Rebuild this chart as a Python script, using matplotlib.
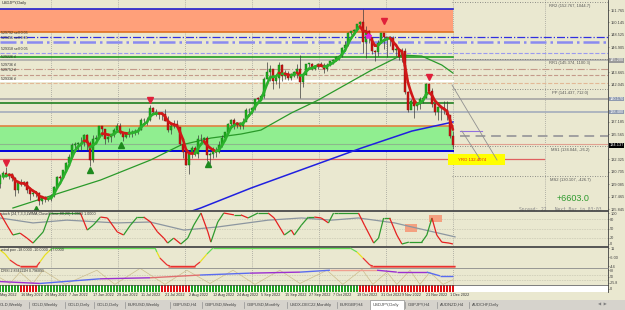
import numpy as np
import pandas as pd
import matplotlib
matplotlib.use("Agg")
import matplotlib.pyplot as plt
from matplotlib.collections import LineCollection
from matplotlib.patches import Rectangle
from matplotlib.transforms import blended_transform_factory

BG = "#EAE8D0"
plt.rcParams["font.family"] = ["Liberation Sans", "DejaVu Sans"]

# ---------------- data (USDJPY daily) ----------------
days = pd.bdate_range("2022-05-02", "2022-12-02")

high = [130.38, 130.40, 130.39, 130.45, 130.80,
        131.35, 130.50, 130.48, 130.04, 129.39,
        129.76, 129.47, 129.49, 128.48, 128.16,
        128.19, 128.10, 127.53, 127.53, 127.32,
        127.82, 128.89, 130.19, 130.23, 130.97,
        131.95, 133.00, 134.47, 134.56, 134.55,
        135.22, 135.58, 135.59, 134.68, 135.44,
        135.43, 136.71, 136.71, 136.26, 135.38,
        135.58, 136.38, 137.00, 136.99, 135.88,
        135.89, 136.36, 136.18, 136.22, 136.58,
        137.75, 137.69, 137.87, 139.39, 139.07,
        138.89, 138.39, 138.40, 138.88, 137.92,
        136.92, 137.48, 137.45, 136.56, 134.54,
        133.40, 133.35, 134.09, 134.09, 135.50,
        135.58, 135.25, 135.30, 133.31, 133.88,
        133.90, 134.67, 135.47, 135.90, 137.00,
        137.61, 137.65, 137.18, 137.17, 137.71,
        138.98, 138.96, 139.10, 140.23, 140.44,
        140.78, 143.08, 144.99, 144.55, 144.10,
        143.20, 144.96, 144.69, 143.99, 143.79,
        143.52, 143.85, 144.70, 145.90, 143.51,
        144.79, 144.89, 144.84, 144.56, 144.84,
        145.01, 144.90, 144.80, 145.11, 145.42,
        145.73, 145.90, 146.92, 147.67, 148.86,
        149.09, 149.28, 149.97, 150.27, 151.94,
        149.71, 149.11, 148.28, 146.59, 147.87,
        148.83, 148.83, 148.25, 148.39, 148.40,
        147.16, 146.64, 146.76, 146.79, 141.23,
        140.16, 140.22, 139.57, 140.40, 140.63,
        142.25, 142.22, 141.58, 139.65, 139.22,
        139.08, 139.90, 139.89, 138.10, 135.97]

low = [129.70, 129.68, 128.90, 128.62, 129.80,
       130.00, 129.82, 129.50, 127.52, 127.88,
       128.88, 128.79, 127.98, 127.03, 127.53,
       127.38, 126.36, 126.55, 126.80, 126.93,
       126.86, 127.46, 128.59, 129.58, 129.84,
       130.80, 131.76, 132.43, 133.23, 133.37,
       133.59, 134.08, 133.50, 131.50, 131.98,
       134.54, 135.00, 135.34, 134.26, 134.52,
       134.64, 135.20, 135.90, 135.56, 134.76,
       135.05, 135.20, 135.27, 135.46, 135.67,
       136.19, 136.85, 136.75, 137.36, 138.26,
       137.95, 137.55, 137.39, 137.35, 135.82,
       135.59, 136.35, 136.49, 134.20, 132.50,
       131.55, 130.39, 132.44, 132.73, 132.53,
       134.36, 134.33, 132.04, 131.73, 132.55,
       132.56, 133.14, 133.95, 134.88, 135.83,
       136.67, 136.31, 136.40, 136.28, 136.21,
       137.57, 138.02, 138.25, 138.79, 139.82,
       140.00, 140.31, 142.81, 142.55, 141.50,
       142.11, 141.66, 142.55, 142.82, 142.64,
       142.66, 143.07, 142.97, 140.35, 141.68,
       143.27, 144.31, 143.91, 143.91, 144.13,
       144.44, 143.52, 143.86, 144.41, 144.69,
       145.18, 145.27, 145.59, 146.44, 147.03,
       148.55, 148.84, 149.09, 149.79, 146.20,
       145.56, 147.43, 145.98, 145.10, 145.77,
       147.53, 146.73, 145.68, 147.05, 146.27,
       145.78, 145.26, 144.98, 140.80, 138.47,
       138.83, 137.67, 138.73, 138.86, 139.60,
       140.35, 140.88, 139.14, 138.05, 137.50,
       137.50, 138.19, 137.50, 135.10, 133.62]

close = [130.15, 130.12, 129.07, 130.19, 130.56,
         130.28, 130.43, 129.95, 128.34, 129.23,
         129.15, 129.38, 128.26, 127.78, 127.87,
         127.88, 126.85, 127.32, 127.11, 127.11,
         127.60, 128.67, 130.04, 129.87, 130.88,
         131.87, 132.63, 134.22, 134.38, 134.43,
         134.39, 135.44, 134.48, 132.21, 134.98,
         135.06, 136.62, 136.23, 134.95, 135.20,
         135.45, 136.13, 136.61, 135.73, 135.20,
         135.68, 135.87, 135.93, 135.99, 136.09,
         137.43, 137.46, 137.43, 138.96, 138.53,
         138.16, 138.18, 138.20, 137.37, 136.13,
         136.68, 136.95, 136.57, 134.27, 133.27,
         131.59, 133.15, 133.77, 133.00, 135.01,
         134.93, 135.16, 132.90, 133.03, 133.46,
         133.30, 134.22, 135.05, 135.85, 136.90,
         137.49, 136.75, 137.05, 136.62, 137.21,
         138.69, 138.76, 138.96, 140.21, 140.20,
         140.51, 142.77, 143.66, 144.09, 142.52,
         142.85, 144.55, 143.18, 143.49, 142.93,
         143.20, 143.70, 144.09, 142.38, 143.35,
         144.74, 144.78, 144.12, 144.43, 144.71,
         144.54, 144.11, 144.57, 145.09, 145.28,
         145.67, 145.77, 146.85, 147.21, 148.72,
         148.99, 149.13, 149.88, 150.14, 147.66,
         148.99, 148.10, 146.37, 146.29, 147.47,
         148.74, 148.19, 147.93, 148.16, 146.61,
         146.61, 145.67, 146.40, 141.03, 138.77,
         139.87, 139.26, 139.48, 140.14, 140.37,
         142.14, 141.25, 139.59, 138.50, 139.15,
         138.96, 138.72, 138.07, 135.37, 134.14]

first_open = 130.30

# slow moving averages (bar index, price)
ma_green_idx = [7.3, 19.7, 36.5, 53.2, 63.3, 73.3, 83.3, 90.0, 100.1, 109.1, 116.8, 126.9, 136.9, 143.6, 150.3, 154.0]
ma_green_val = [125.98, 127.54, 129.62, 132.23, 134.18, 135.09, 135.61, 136.13, 138.35, 140.04, 141.73, 143.95, 145.90, 145.77, 144.60, 143.56]
ma_blue_idx = [66.0, 69.9, 86.7, 105.1, 123.5, 140.3, 154.0]
ma_blue_val = [125.45, 125.98, 128.58, 131.19, 133.79, 136.00, 137.18]

# stochastic oscillator
stoch_idx = [3.0, 5.3, 7.3, 9.7, 12.0, 14.0, 17.4, 19.7, 29.8, 32.1, 34.1, 36.5, 38.8, 42.1, 44.2, 46.5,
             48.8, 50.9, 53.2, 55.5, 57.6, 58.9, 60.9, 63.3, 65.6, 67.6, 70.0, 72.3, 73.3, 75.6, 77.6, 81.0,
             83.3, 85.7, 89.0, 92.4, 94.4, 97.8, 100.1, 101.1, 103.5, 105.8, 107.8, 110.1, 112.5, 114.2,
             115.8, 122.5, 124.5, 127.6, 129.2, 130.9, 132.9, 135.3, 137.0, 139.3, 143.6, 145.3, 147.0,
             148.6, 150.3, 152.7, 154.0]
stoch_val = [100, 61, 29, 35, 19, 3, 39, 100, 100, 45, 61, 87, 84, 39, 29, 61,
             87, 87, 71, 39, 19, 3, 19, 0, 19, 61, 100, 39, 6, 71, 100, 94,
             94, 84, 100, 100, 84, 29, 45, 29, 61, 87, 87, 84, 68, 100,
             100, 100, 61, 3, 19, 84, 84, 29, 0, 6, 6, 29, 84,
             29, 6, 3, 0]
stoch_slow_idx = [3, 14, 25.3, 42, 53, 64.3, 75.6, 92.4, 103.5, 113.5, 122.5, 134.6, 140.3, 154.7]
stoch_slow_val = [84, 68, 77, 68, 71, 45, 55, 77, 84, 77, 84, 68, 55, 23]

# "wind pov" panel
wind_idx = [3, 4.7, 6.3, 8.7, 9.7, 15.3, 16.3, 18, 19.7, 20.7, 54.7, 55.3, 56.3, 58.7, 59.7,
            68, 69.7, 72, 74, 119.7, 122, 124, 126.3, 127.3, 154.7]
wind_val = [7, 1, -8, -15.5, -17, -17, -11, -0.5, 7, 10, 10, 4, -5, -15.5, -17,
            -17, -11, 1, 10, 10, 4, -5, -15.5, -17, -17]
wind_floor = [(9.7, 15.3), (59.0, 68.0), (126.3, 154.7)]

# DRSI panel
drsi_idx = [3, 16.3, 36.3, 53, 69.7, 86.3, 103, 113, 128.7, 135.3, 145.3, 149.7, 154]
drsi_val = [22, 11, 38, 44, 60, 71, 77, 88, 88, 77, 77, 55, 55]
wave_idx = [3, 6.3, 9.7, 14, 17.3, 24.7, 35.3, 41.3, 49.7, 58, 65.3, 73, 80.7, 88, 96.3, 103,
            112, 117.3, 123.7, 127.3, 132, 135.3, 139.7, 143, 146.3, 150.7, 154]
wave_val = [44, 11, 77, 11, 88, 5.5, 88, 5.5, 99, 5.5, 88, 11, 88, 5.5, 88, 11,
            88, 5.5, 93.5, 5.5, 77, 5.5, 88, 5.5, 77, 5.5, 33]

# signal bar panel: bars in red state
red_state = [(10, 15), (57, 66), (123, 154)]

# chart levels
pivots = {"RR2": (152.767, 1044.7), "RR1": (145.374, 1100.3), "PP": (141.437, 712.0),
          "MS1": (134.044, -26.2), "MS2": (130.107, -426.7)}
bid = 134.137
yro = 132.4074

date_idx = [2, 10, 18, 26, 34, 42, 50, 58, 66, 74, 82, 90, 98, 106, 114, 122, 130, 137, 145, 153]
tabs = ["OLD,Weekly", "GOLD,Weekly", "GOLD,Daily", "GOLD,Daily", "EURUSD,Weekly", "GBPUSD,H4",
        "GBPUSD,Weekly", "GBPUSD,Monthly", "USDX-DEC22,Monthly", "EURGBP,H4", "USDJPY,Daily",
        "GBPJPY,H4", "AUDNZD,H4", "AUDCHF,Daily"]
order_labels = [(148.51, "529792 sell 0.05"), (147.86, "529451 sell 0.05"), (146.43, "529318 sell 0.05"),
                (145.39, "529226 tl"), (144.35, "529736 tl"), (143.70, "529752 tl"), (142.52, "529336 tl")]

# ---------------- figure ----------------
close = np.array(close)
high = np.array(high)
low = np.array(low)
opens = np.r_[first_open, close[:-1]]
x = np.arange(len(close))
last = x[-1]

W, H = 625, 310
fig = plt.figure(figsize=(6.25, 3.10), dpi=100)
fig.patch.set_facecolor(BG)


def box(top, bottom):
    return [0, 1 - bottom / H, 608 / W, (bottom - top) / H]


ax = fig.add_axes(box(0, 211))
ax_st = fig.add_axes(box(211, 247), sharex=ax)
ax_wp = fig.add_axes(box(247, 268), sharex=ax)
ax_ds = fig.add_axes(box(268, 285), sharex=ax)
ax_bar = fig.add_axes(box(285, 292), sharex=ax)
ax.set_xlim(3, 205.7)

grid_x = [20, 42.3, 64.7, 87, 109.3, 131.7, 154]

for a in (ax, ax_st, ax_wp, ax_ds, ax_bar):
    a.set_facecolor(BG)
    a.spines["left"].set_visible(False)
    a.spines["bottom"].set_visible(False)
    a.spines["top"].set_color("#4a4a4a")
    a.spines["top"].set_linewidth(1.3)
    a.spines["right"].set_color("#404040")
    a.spines["right"].set_linewidth(0.6)
    a.yaxis.tick_right()
    a.tick_params(axis="y", length=1, width=0.4, pad=0.6, labelsize=2.8, colors="#404040")
    a.tick_params(axis="x", bottom=False, labelbottom=False)
    for gx in grid_x:
        a.axvline(gx, color="#808080", lw=0.5, ls=(0, (1, 2)), zorder=1)
ax.spines["top"].set_visible(False)
ax_ds.spines["top"].set_color("#8a8a8a")
ax_ds.spines["top"].set_linewidth(0.6)
ax_bar.spines["top"].set_linewidth(0.5)

# ---- main panel ----
ax.set_ylim(125.59, 153.07)
ax.axvline(184.7, color="#808080", lw=0.5, ls=(0, (1, 2)), zorder=1)

ax.fill_between([3, last], 148.90, 151.90, color="#FFA07A", zorder=1.5, lw=0)
ax.fill_between([3, last], 133.40, 136.66, color="#90EE90", zorder=1.5, lw=0)
seg = [  # price, color, lw, style, end
    (151.90, "#2020D0", 1.2, "-", last), (148.90, "#E07020", 1.2, "-", last),
    (148.25, "#3030E0", 0.9, "-.", 206), (147.55, "#8A8AF0", 1.8, "-.", 206),
    (146.15, "#9A9AF0", 0.8, "--", 206), (145.65, "#20A020", 1.2, "-", last),
    (145.20, "#A8A8A8", 1.1, "-", 206), (144.08, "#C49A8A", 0.8, "-.", 206),
    (143.30, "#C49A8A", 0.8, "--", 206), (142.58, "#FFFFFF", 1.6, "-", last),
    (142.26, "#E2B896", 0.8, "--", 206), (140.17, "#A0A0A0", 1.1, "-", 206),
    (139.65, "#208020", 1.2, "-", last), (138.48, "#A4ACBC", 1.2, "-", 206),
    (136.66, "#E08040", 1.2, "-", last), (134.31, "#8CB88C", 0.8, "-", last),
    (133.40, "#0000DD", 1.4, "-", last), (yro, "#E06060", 0.9, "-", 184.3),
]
for p, c, w, s, end in seg:
    ax.plot([3, end], [p, p], color=c, lw=w, ls=s, zorder=2)
ax.plot([156.3, 206], [135.35, 135.35], color="#A0A0A0", lw=1.4, ls=(0, (5, 3)), zorder=2)
ax.plot([last, 206], [134.31, 134.31], color="#E0A090", lw=0.8, zorder=2)
ax.plot([156.3, 163.7], [135.95, 135.95], color="#9070E0", lw=0.8, zorder=2)
for name, (p, pts) in pivots.items():
    ax.plot([153.7, 206], [p, p], color="#707070", lw=0.6, ls=(0, (1, 2)), zorder=2)
    ax.text(193, p - 0.25, f"{name} ({p:.3f}, {pts})", fontsize=3.0, color="#555555",
            ha="center", va="top", zorder=3)

# projection lines and marker box
ax.plot([153.7, 168.7], [142.0, 132.23], color="#909090", lw=0.6, zorder=3)
ax.plot([157.0, 163.0], [136.0, 132.36], color="#909090", lw=0.6, zorder=3)
ax.add_patch(Rectangle((152.3, 131.58), 19, 1.43, color="#FFFF00", zorder=2.5, lw=0))
ax.text(155.7, 132.25, f"YRO {yro}", fontsize=3.1, color="#E02020", va="center", zorder=6)

# moving averages
ax.plot(ma_blue_idx, ma_blue_val, color="#2020E0", lw=1.1, zorder=3)
ax.plot(ma_green_idx, ma_green_val, color="#2A9A2A", lw=0.9, zorder=3)

# candles
up = close >= opens
body = np.maximum(np.abs(close - opens), 0.06)
bottom = np.minimum(close, opens)
ax.vlines(x, low, high, color="#3c3c3c", lw=0.5, zorder=4)
ax.bar(x[up], body[up], bottom=bottom[up], width=0.66, color="#1FB01F", edgecolor="#107010", lw=0.3, zorder=5)
ax.bar(x[~up], body[~up], bottom=bottom[~up], width=0.66, color="#D01010", edgecolor="#801010", lw=0.3, zorder=5)

# weighted fast average, coloured by direction
w = np.arange(5, 0, -1)
fast = np.convolve(close, w, mode="valid") / w.sum()
fx = x[4:]
pts = np.column_stack([fx, fast])
segs = np.stack([pts[:-1], pts[1:]], axis=1)
cols = ["#2BB02B" if b > a else "#D01818" for a, b in zip(fast[:-1], fast[1:])]
ax.add_collection(LineCollection(segs, colors=cols, linewidths=1.9, zorder=6, capstyle="round"))

# signal arrows
ax.plot([5, 53, 131, 146], [131.8, 140.0, 150.4, 143.0], ls="none", marker="v", ms=4.5,
        color="#E0203A", zorder=7)
ax.plot([15, 33, 43.3, 72.3], [125.9, 130.9, 134.2, 131.7], ls="none", marker="^", ms=4.5,
        color="#1E8A1E", zorder=7)
ax.plot([125.7], [148.4], ls="none", marker="*", ms=4, color="#E020E0", zorder=7)

for p, t in order_labels:
    ax.text(3.2, p, t, fontsize=2.6, color="#303030", va="bottom", zorder=7)
ax.text(3.5, 152.95, "USDJPY,Daily", fontsize=2.9, color="#303030", va="top")

ax.text(194, 127.2, "+6603.0", fontsize=6.5, color="#2E9A2E", ha="center", va="center")
ax.text(203.5, 125.85, "Spread: 22   Next Bar in 03:03", fontsize=3.3, color="#8A8A8A",
        family="DejaVu Sans Mono", ha="right", va="center")

ticks = [151.765, 150.145, 148.525, 146.905, 143.665, 142.045,
         137.185, 135.565, 132.325, 130.705, 129.085, 127.465, 125.845]
ax.set_yticks(ticks)
ax.set_yticklabels([f"{t:.3f}" for t in ticks])
tr = blended_transform_factory(ax.transAxes, ax.transData)
for p, fc in [(145.20, "#9A9A9A"), (140.17, "#8E9AB0"), (138.48, "#8E9AB0"), (bid, "#000000")]:
    ax.text(1.0025, p, f"{p:.3f}", transform=tr, fontsize=2.8, color="white", va="center",
            bbox=dict(boxstyle="square,pad=0.1", fc=fc, ec="none"), clip_on=False, zorder=8)

# ---- stochastic panel ----
ax_st.set_ylim(-9.7, 106.5)
for lv in (80, 50, 20):
    ax_st.axhline(lv, color="#A0A090", lw=0.4, ls=(0, (1, 2)), zorder=1)
ax_st.add_patch(Rectangle((138, 39), 4, 26, color="#F4A080", lw=0, zorder=1.5))
ax_st.add_patch(Rectangle((146, 71), 4.3, 23, color="#F4A080", lw=0, zorder=1.5))
ax_st.plot(stoch_slow_idx, stoch_slow_val, color="#8C96A0", lw=0.9, zorder=2)
sp = np.column_stack([stoch_idx, stoch_val])
ssegs = np.stack([sp[:-1], sp[1:]], axis=1)
scol = ["#2E9A2E" if b >= a else "#E52020" for a, b in zip(stoch_val[:-1], stoch_val[1:])]
ax_st.add_collection(LineCollection(ssegs, colors=scol, linewidths=0.9, zorder=3))
ax_st.set_yticks([100, 80, 50, 20, 0])
ax_st.set_yticklabels(["100", "80", "50", "20", "0"])
ax_st.text(3.3, 104, "stoch (24,7,3,3,LWMA,Close/Close,80,20) 1.0903 1.0000",
           fontsize=2.7, color="#303030", va="top")

# ---- wind pov panel ----
ax_wp.set_ylim(-20, 11.5)
for a0, a1 in wind_floor:
    ax_wp.plot([a0, a1], [-18, -18], color="#F08070", lw=2.4, solid_capstyle="butt", zorder=2)
wp = np.column_stack([wind_idx, wind_val])
wsegs = np.stack([wp[:-1], wp[1:]], axis=1)
wcol = []
for a, b in zip(wind_val[:-1], wind_val[1:]):
    m = (a + b) / 2
    wcol.append("#66DD55" if m > 5 else ("#E8E020" if m > -6 else "#E83030"))
ax_wp.add_collection(LineCollection(wsegs, colors=wcol, linewidths=0.9, zorder=3))
ax_wp.set_yticks([10, -4, -17])
ax_wp.set_yticklabels(["11", "-6.00", "-44"])
ax_wp.text(3.3, 10.5, "wind pov -18.0000 -10.0000 -17.0000", fontsize=2.7, color="#303030", va="top")

# ---- DRSI panel ----
ax_ds.set_ylim(2, 101)
for lv in (60, 33):
    ax_ds.axhline(lv, color="#A0A090", lw=0.4, ls=(0, (1, 2)), zorder=1)
ax_ds.plot(wave_idx, wave_val, color="#CDBE8E", lw=0.5, zorder=2)
dp = np.column_stack([drsi_idx, drsi_val])
dsegs = np.stack([dp[:-1], dp[1:]], axis=1)
dcol = ["#9B30D0", "#5A6CF0", "#9B30D0", "#E07070", "#5A6CF0", "#9B30D0",
        "#5A6CF0", "#F0A090", "#9B30D0", "#9B30D0", "#5A6CF0", "#5A6CF0"]
ax_ds.add_collection(LineCollection(dsegs, colors=dcol, linewidths=1.0, zorder=3))
ax_ds.set_yticks([88, 50, 15])
ax_ds.set_yticklabels(["88", "50", "-25.8"], fontsize=2.6)
ax_ds.text(3.3, 98, "DRSI 2 834222H 0.796891", fontsize=2.6, color="#303030", va="top")

# ---- signal bar panel ----
ax_bar.set_ylim(0, 1)
ax_bar.set_facecolor("#FFFFFF")
state_red = np.zeros(len(x), dtype=bool)
for a0, a1 in red_state:
    state_red[a0:a1 + 1] = True
ax_bar.bar(x, np.ones(len(x)), width=0.55, color=np.where(state_red, "#E01010", "#22A022"), zorder=2)
ax_bar.set_yticks([0.5])
ax_bar.set_yticklabels(["0"])
trd = blended_transform_factory(ax_bar.transData, ax_bar.transAxes)
for i in date_idx:
    d = days[i]
    ax_bar.text(i, -0.2, f"{d.day} {d:%b %Y}", transform=trd, fontsize=2.7, color="#303030",
                ha="left", va="top", clip_on=False)

# ---- tab bar ----
ax_tab = fig.add_axes([0, 0, 1, 10 / H])
ax_tab.set_xlim(0, W)
ax_tab.set_ylim(0, 10)
ax_tab.set_facecolor("#D6D3CC")
for s in ax_tab.spines.values():
    s.set_visible(False)
ax_tab.set_xticks([])
ax_tab.set_yticks([])
tab_x = [0, 32, 68, 97, 128, 173, 205, 247, 290, 340, 373, 408, 440, 472]
for t, tx in zip(tabs, tab_x):
    if t == "USDJPY,Daily":
        ax_tab.add_patch(Rectangle((tx - 3, 0), 34, 10, fc="white", ec="#909090", lw=0.5))
    else:
        ax_tab.plot([tx - 3, tx - 3], [2, 8], color="#909090", lw=0.5)
    ax_tab.text(tx, 5, t, fontsize=3.0, color="#404040", va="center")
ax_tab.text(598, 5, "\u25c0  \u25b6", fontsize=3.0, color="#808080", va="center",
            family="DejaVu Sans")

fig.savefig("out.png", dpi=100, facecolor=BG)
